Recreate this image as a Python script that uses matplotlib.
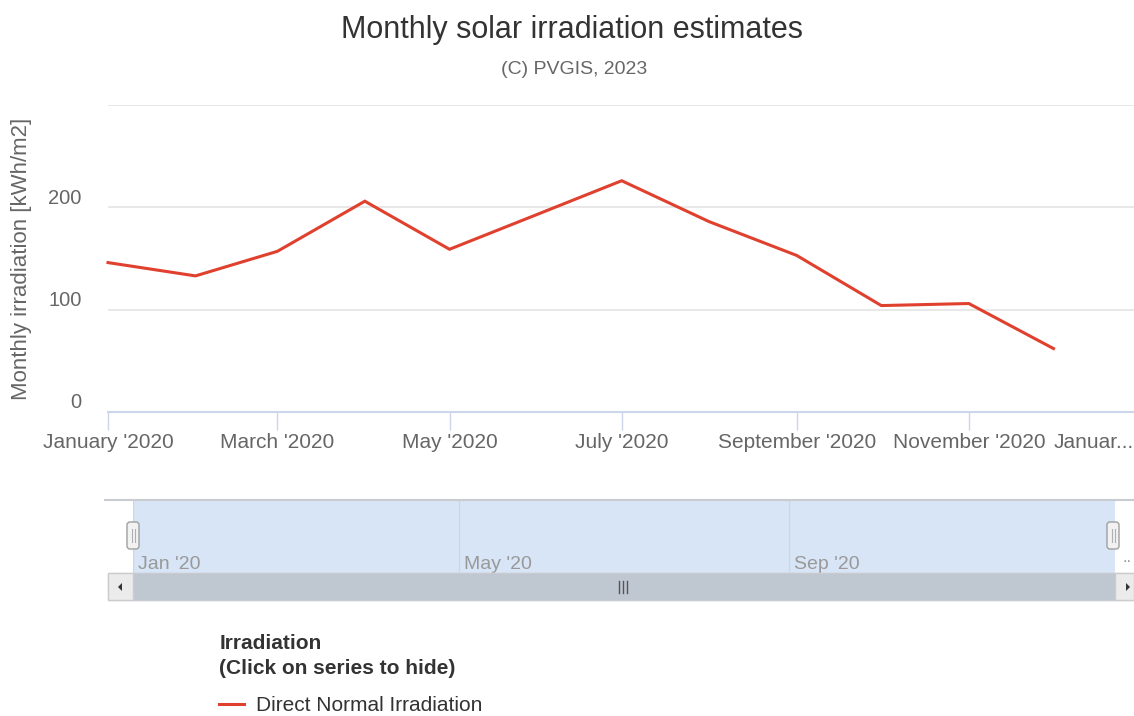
import numpy as np
import pandas as pd
import matplotlib
matplotlib.use("Agg")
import matplotlib.pyplot as plt
import matplotlib.dates as mdates
import matplotlib.patches as mpatches
from matplotlib.transforms import ScaledTranslation

plt.rcParams["font.family"] = ["Liberation Sans", "DejaVu Sans"]

# data (kWh/m2, first day of each month)
months = pd.date_range("2020-01-01", periods=12, freq="MS")
dni = [146, 133, 157, 206, 159, 193, 226, 186, 153, 104, 106, 62]

tick_dates = pd.to_datetime(["2020-01-01", "2020-03-01", "2020-05-01", "2020-07-01",
                             "2020-09-01", "2020-11-01", "2021-01-01"])
tick_labels = ["January '2020", "March '2020", "May '2020", "July '2020",
               "September '2020", "November '2020", "Januar..."]
nav_dates = pd.to_datetime(["2020-01-01", "2020-05-01", "2020-09-01"])
nav_labels = ["Jan '20", "May '20", "Sep '20"]
y_ticks = [0, 100, 200, 300]
y_labels = ["0", "100", "200", ""]

RED = "#e0402e"
W, H = 1134, 716


def px_rect(x0, y0, x1, y1):
    # pixel box (top-left origin) -> figure fraction rect
    return [x0 / W, (H - y1) / H, (x1 - x0) / W, (y1 - y0) / H]


fig = plt.figure(figsize=(W / 100, H / 100), dpi=100)

# ---- main chart
ax = fig.add_axes(px_rect(108, 105, 1141, 412))
line, = ax.plot(months, dni, color=RED, lw=2.2, solid_joinstyle="miter",
                label="Direct Normal Irradiation", clip_on=False)
ax.set_xlim(pd.Timestamp("2020-01-01"), pd.Timestamp("2021-01-01"))
ax.set_ylim(0, 300)
ax.set_yticks(y_ticks)
ax.set_yticklabels(y_labels)
ax.set_xticks(tick_dates)
ax.set_xticklabels(tick_labels)
ax.grid(axis="y", color="#e6e6e6", lw=1.3)
ax.set_axisbelow(True)
for s in ["top", "right", "left"]:
    ax.spines[s].set_visible(False)
ax.spines["bottom"].set_color("#ccd6eb")
ax.spines["bottom"].set_linewidth(1.5)
ax.tick_params(axis="x", direction="out", length=13, width=1, color="#ccd6eb",
               labelsize=15, labelcolor="#666666", pad=2)
ax.tick_params(axis="y", length=0, labelsize=14.5, labelcolor="#666666", pad=19)
for lab in ax.get_yticklabels():
    lab.set_transform(lab.get_transform() + ScaledTranslation(0, 0.11, fig.dpi_scale_trans))
last = ax.get_xticklabels()[-1]
last.set_ha("right")
last.set_transform(last.get_transform() + ScaledTranslation(-0.07, 0, fig.dpi_scale_trans))
ax.set_ylabel("Monthly irradiation [kWh/m2]", fontsize=16, color="#666666", va="center")
ax.yaxis.set_label_coords(-86 / 1033, 0.5)

fig.text(572 / W, 1 - 30 / H, "Monthly solar irradiation estimates", ha="center",
         va="center", fontsize=22, color="#333333")
fig.text(574 / W, 1 - 70 / H, "(C) PVGIS, 2023", ha="center", va="center",
         fontsize=14, color="#666666")

# ---- navigator pane
nav = fig.add_axes(px_rect(133, 500, 1115, 573))
nav.set_facecolor("#d7e5f6")
nav.set_xlim(pd.Timestamp("2020-01-01"), pd.Timestamp("2020-12-31"))
nav.set_ylim(0, 1)
nav.set_xticks(nav_dates)
nav.set_xticklabels(nav_labels)
nav.set_yticks([])
nav.grid(axis="x", color="#cbd7e6", lw=1)
nav.tick_params(axis="x", direction="in", length=0, pad=-12, labelsize=14,
                labelcolor="#999999")
for lab in nav.get_xticklabels():
    lab.set_ha("left")
    lab.set_transform(lab.get_transform() + ScaledTranslation(0.05, 0, fig.dpi_scale_trans))
for s in nav.spines.values():
    s.set_visible(False)

# ---- chrome: outline, handles, scrollbar (pixel coordinates)
ch = fig.add_axes(px_rect(0, 490, W, 610), zorder=3)
ch.set_xlim(0, W)
ch.set_ylim(610, 490)
ch.axis("off")
ch.plot([105, W], [500, 500], color="#c8cbd0", lw=1.5)
ch.text(1127, 558, "..", color="#999999", fontsize=12, ha="center", va="center")
for hx in [133, 1113]:
    ch.add_patch(mpatches.FancyBboxPatch((hx - 6, 522), 12, 27,
                                         boxstyle="round,pad=0,rounding_size=3",
                                         fc="#f2f2f2", ec="#a0a0a0", lw=1))
    ch.plot([hx - 1.5, hx - 1.5], [529, 542], color="#b0b0b0", lw=0.8)
    ch.plot([hx + 1.5, hx + 1.5], [529, 542], color="#b0b0b0", lw=0.8)
ch.add_patch(mpatches.Rectangle((108, 573), 1026, 27, fc="#f2f2f2", ec="#d8d8d8", lw=1))
ch.add_patch(mpatches.Rectangle((133, 573), 982, 27, fc="#bfc7d1", ec="#c8ccd2", lw=1))
ch.add_patch(mpatches.Rectangle((108, 573), 25, 27, fc="#ebebeb", ec="#cccccc", lw=1))
ch.add_patch(mpatches.Rectangle((1115, 573), 19, 27, fc="#ebebeb", ec="#cccccc", lw=1))
ch.add_patch(mpatches.Polygon([[118, 587], [122, 583], [122, 591]], closed=True, fc="#333333"))
ch.add_patch(mpatches.Polygon([[1130, 587], [1126, 583], [1126, 591]], closed=True, fc="#333333"))
for gx in [619, 623, 627]:
    ch.plot([gx, gx], [581, 593], color="#555555", lw=1)

# ---- legend
leg = fig.legend(handles=[line], loc="upper left", bbox_to_anchor=(209 / W, 1 - 624 / H),
                 frameon=False, fontsize=15, handlelength=1.2, handletextpad=0.55,
                 borderpad=0, labelspacing=0.9, labelcolor="#333333",
                 title="Irradiation\n(Click on series to hide)",
                 title_fontproperties={"weight": "bold", "size": 15})
leg._legend_box.align = "left"
leg.get_title().set_color("#333333")
leg.get_title().set_linespacing(1.35)

fig.savefig("out.png", dpi=100)
